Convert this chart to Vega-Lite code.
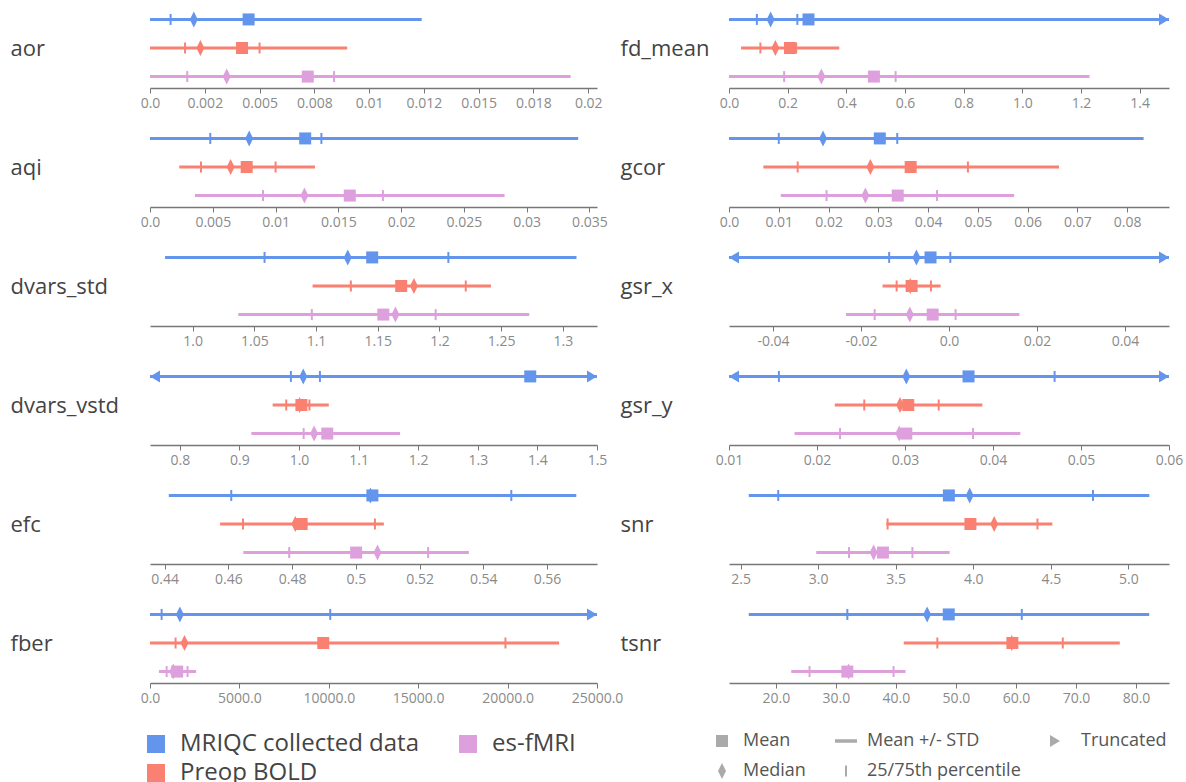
{
"$schema":"https://vega.github.io/schema/vega-lite/v6.json",
"padding":{"left":10,"top":8,"right":0,"bottom":0},
"bounds":"flush",
"columns":2,
"spacing":{"row":39,"column":132},
"datasets":{
"ranges":[
{"m":"aor","g":"MRIQC collected data","lo":0,"hi":0.0124},
{"m":"aor","g":"Preop BOLD","lo":0,"hi":0.009},
{"m":"aor","g":"es-fMRI","lo":0,"hi":0.0192},
{"m":"fd_mean","g":"MRIQC collected data","lo":0,"hi":1.5},
{"m":"fd_mean","g":"Preop BOLD","lo":0.041,"hi":0.376},
{"m":"fd_mean","g":"es-fMRI","lo":0,"hi":1.229},
{"m":"aqi","g":"MRIQC collected data","lo":0,"hi":0.0341},
{"m":"aqi","g":"Preop BOLD","lo":0.00233,"hi":0.01314},
{"m":"aqi","g":"es-fMRI","lo":0.00358,"hi":0.02824},
{"m":"gcor","g":"MRIQC collected data","lo":0,"hi":0.0833},
{"m":"gcor","g":"Preop BOLD","lo":0.0069,"hi":0.0663},
{"m":"gcor","g":"es-fMRI","lo":0.0104,"hi":0.0573},
{"m":"dvars_std","g":"MRIQC collected data","lo":0.9777,"hi":1.311},
{"m":"dvars_std","g":"Preop BOLD","lo":1.0972,"hi":1.2417},
{"m":"dvars_std","g":"es-fMRI","lo":1.037,"hi":1.2727},
{"m":"gsr_x","g":"MRIQC collected data","lo":-0.05,"hi":0.05},
{"m":"gsr_x","g":"Preop BOLD","lo":-0.0151,"hi":-0.0019},
{"m":"gsr_x","g":"es-fMRI","lo":-0.0234,"hi":0.016},
{"m":"dvars_vstd","g":"MRIQC collected data","lo":0.75,"hi":1.5},
{"m":"dvars_vstd","g":"Preop BOLD","lo":0.9558,"hi":1.05},
{"m":"dvars_vstd","g":"es-fMRI","lo":0.9201,"hi":1.1696},
{"m":"gsr_y","g":"MRIQC collected data","lo":0.01,"hi":0.06},
{"m":"gsr_y","g":"Preop BOLD","lo":0.02202,"hi":0.03879},
{"m":"gsr_y","g":"es-fMRI","lo":0.01745,"hi":0.04311},
{"m":"efc","g":"MRIQC collected data","lo":0.4413,"hi":0.5692},
{"m":"efc","g":"Preop BOLD","lo":0.4574,"hi":0.5088},
{"m":"efc","g":"es-fMRI","lo":0.4647,"hi":0.5355},
{"m":"snr","g":"MRIQC collected data","lo":2.553,"hi":5.135},
{"m":"snr","g":"Preop BOLD","lo":3.44,"hi":4.51},
{"m":"snr","g":"es-fMRI","lo":2.988,"hi":3.848},
{"m":"fber","g":"MRIQC collected data","lo":0,"hi":25000},
{"m":"fber","g":"Preop BOLD","lo":0,"hi":22880},
{"m":"fber","g":"es-fMRI","lo":500,"hi":2580},
{"m":"tsnr","g":"MRIQC collected data","lo":15.47,"hi":82.2},
{"m":"tsnr","g":"Preop BOLD","lo":41.3,"hi":77.3},
{"m":"tsnr","g":"es-fMRI","lo":22.55,"hi":41.6}
],
"pts":[
{"m":"aor","g":"MRIQC collected data","s":"25/75th percentile","v":0.00094},
{"m":"aor","g":"MRIQC collected data","s":"25/75th percentile","v":0.0046},
{"m":"aor","g":"MRIQC collected data","s":"Median","v":0.002},
{"m":"aor","g":"MRIQC collected data","s":"Mean","v":0.0045},
{"m":"aor","g":"Preop BOLD","s":"25/75th percentile","v":0.0016},
{"m":"aor","g":"Preop BOLD","s":"25/75th percentile","v":0.005},
{"m":"aor","g":"Preop BOLD","s":"Median","v":0.0023},
{"m":"aor","g":"Preop BOLD","s":"Mean","v":0.0042},
{"m":"aor","g":"es-fMRI","s":"25/75th percentile","v":0.0017},
{"m":"aor","g":"es-fMRI","s":"25/75th percentile","v":0.0084},
{"m":"aor","g":"es-fMRI","s":"Median","v":0.0035},
{"m":"aor","g":"es-fMRI","s":"Mean","v":0.0072},
{"m":"fd_mean","g":"MRIQC collected data","s":"25/75th percentile","v":0.095},
{"m":"fd_mean","g":"MRIQC collected data","s":"25/75th percentile","v":0.233},
{"m":"fd_mean","g":"MRIQC collected data","s":"Median","v":0.142},
{"m":"fd_mean","g":"MRIQC collected data","s":"Mean","v":0.271},
{"m":"fd_mean","g":"MRIQC collected data","s":"Truncated","v":1.5},
{"m":"fd_mean","g":"Preop BOLD","s":"25/75th percentile","v":0.107},
{"m":"fd_mean","g":"Preop BOLD","s":"25/75th percentile","v":0.229},
{"m":"fd_mean","g":"Preop BOLD","s":"Median","v":0.158},
{"m":"fd_mean","g":"Preop BOLD","s":"Mean","v":0.208},
{"m":"fd_mean","g":"es-fMRI","s":"25/75th percentile","v":0.188},
{"m":"fd_mean","g":"es-fMRI","s":"25/75th percentile","v":0.568},
{"m":"fd_mean","g":"es-fMRI","s":"Median","v":0.315},
{"m":"fd_mean","g":"es-fMRI","s":"Mean","v":0.494},
{"m":"aqi","g":"MRIQC collected data","s":"25/75th percentile","v":0.0048},
{"m":"aqi","g":"MRIQC collected data","s":"25/75th percentile","v":0.01365},
{"m":"aqi","g":"MRIQC collected data","s":"Median","v":0.0079},
{"m":"aqi","g":"MRIQC collected data","s":"Mean","v":0.01236},
{"m":"aqi","g":"Preop BOLD","s":"25/75th percentile","v":0.00406},
{"m":"aqi","g":"Preop BOLD","s":"25/75th percentile","v":0.01},
{"m":"aqi","g":"Preop BOLD","s":"Median","v":0.00642},
{"m":"aqi","g":"Preop BOLD","s":"Mean","v":0.0077},
{"m":"aqi","g":"es-fMRI","s":"25/75th percentile","v":0.009},
{"m":"aqi","g":"es-fMRI","s":"25/75th percentile","v":0.01855},
{"m":"aqi","g":"es-fMRI","s":"Median","v":0.0123},
{"m":"aqi","g":"es-fMRI","s":"Mean","v":0.01591},
{"m":"gcor","g":"MRIQC collected data","s":"25/75th percentile","v":0.01},
{"m":"gcor","g":"MRIQC collected data","s":"25/75th percentile","v":0.0338},
{"m":"gcor","g":"MRIQC collected data","s":"Median","v":0.0189},
{"m":"gcor","g":"MRIQC collected data","s":"Mean","v":0.0303},
{"m":"gcor","g":"Preop BOLD","s":"25/75th percentile","v":0.0138},
{"m":"gcor","g":"Preop BOLD","s":"25/75th percentile","v":0.048},
{"m":"gcor","g":"Preop BOLD","s":"Median","v":0.0284},
{"m":"gcor","g":"Preop BOLD","s":"Mean","v":0.0365},
{"m":"gcor","g":"es-fMRI","s":"25/75th percentile","v":0.0196},
{"m":"gcor","g":"es-fMRI","s":"25/75th percentile","v":0.0418},
{"m":"gcor","g":"es-fMRI","s":"Median","v":0.0274},
{"m":"gcor","g":"es-fMRI","s":"Mean","v":0.0339},
{"m":"dvars_std","g":"MRIQC collected data","s":"25/75th percentile","v":1.0583},
{"m":"dvars_std","g":"MRIQC collected data","s":"25/75th percentile","v":1.2072},
{"m":"dvars_std","g":"MRIQC collected data","s":"Median","v":1.1257},
{"m":"dvars_std","g":"MRIQC collected data","s":"Mean","v":1.1455},
{"m":"dvars_std","g":"Preop BOLD","s":"25/75th percentile","v":1.1282},
{"m":"dvars_std","g":"Preop BOLD","s":"25/75th percentile","v":1.2213},
{"m":"dvars_std","g":"Preop BOLD","s":"Mean","v":1.169},
{"m":"dvars_std","g":"Preop BOLD","s":"Median","v":1.1793},
{"m":"dvars_std","g":"es-fMRI","s":"25/75th percentile","v":1.0966},
{"m":"dvars_std","g":"es-fMRI","s":"25/75th percentile","v":1.1969},
{"m":"dvars_std","g":"es-fMRI","s":"Mean","v":1.1545},
{"m":"dvars_std","g":"es-fMRI","s":"Median","v":1.1643},
{"m":"gsr_x","g":"MRIQC collected data","s":"25/75th percentile","v":-0.0136},
{"m":"gsr_x","g":"MRIQC collected data","s":"25/75th percentile","v":0.0003},
{"m":"gsr_x","g":"MRIQC collected data","s":"Median","v":-0.0074},
{"m":"gsr_x","g":"MRIQC collected data","s":"Mean","v":-0.0042},
{"m":"gsr_x","g":"MRIQC collected data","s":"Truncated","v":0.05},
{"m":"gsr_x","g":"MRIQC collected data","s":"TruncatedL","v":-0.05},
{"m":"gsr_x","g":"Preop BOLD","s":"25/75th percentile","v":-0.0119},
{"m":"gsr_x","g":"Preop BOLD","s":"25/75th percentile","v":-0.0041},
{"m":"gsr_x","g":"Preop BOLD","s":"Median","v":-0.0088},
{"m":"gsr_x","g":"Preop BOLD","s":"Mean","v":-0.0085},
{"m":"gsr_x","g":"es-fMRI","s":"25/75th percentile","v":-0.0169},
{"m":"gsr_x","g":"es-fMRI","s":"25/75th percentile","v":0.0015},
{"m":"gsr_x","g":"es-fMRI","s":"Median","v":-0.0089},
{"m":"gsr_x","g":"es-fMRI","s":"Mean","v":-0.0037},
{"m":"dvars_vstd","g":"MRIQC collected data","s":"25/75th percentile","v":0.9864},
{"m":"dvars_vstd","g":"MRIQC collected data","s":"25/75th percentile","v":1.0351},
{"m":"dvars_vstd","g":"MRIQC collected data","s":"Median","v":1.0071},
{"m":"dvars_vstd","g":"MRIQC collected data","s":"Mean","v":1.388},
{"m":"dvars_vstd","g":"MRIQC collected data","s":"Truncated","v":1.5},
{"m":"dvars_vstd","g":"MRIQC collected data","s":"TruncatedL","v":0.75},
{"m":"dvars_vstd","g":"Preop BOLD","s":"25/75th percentile","v":0.9786},
{"m":"dvars_vstd","g":"Preop BOLD","s":"25/75th percentile","v":1.0175},
{"m":"dvars_vstd","g":"Preop BOLD","s":"Median","v":1.001},
{"m":"dvars_vstd","g":"Preop BOLD","s":"Mean","v":1.004},
{"m":"dvars_vstd","g":"es-fMRI","s":"25/75th percentile","v":1.0078},
{"m":"dvars_vstd","g":"es-fMRI","s":"25/75th percentile","v":1.05},
{"m":"dvars_vstd","g":"es-fMRI","s":"Median","v":1.0253},
{"m":"dvars_vstd","g":"es-fMRI","s":"Mean","v":1.0474},
{"m":"gsr_y","g":"MRIQC collected data","s":"25/75th percentile","v":0.01567},
{"m":"gsr_y","g":"MRIQC collected data","s":"25/75th percentile","v":0.047},
{"m":"gsr_y","g":"MRIQC collected data","s":"Median","v":0.03015},
{"m":"gsr_y","g":"MRIQC collected data","s":"Mean","v":0.03722},
{"m":"gsr_y","g":"MRIQC collected data","s":"Truncated","v":0.06},
{"m":"gsr_y","g":"MRIQC collected data","s":"TruncatedL","v":0.01},
{"m":"gsr_y","g":"Preop BOLD","s":"25/75th percentile","v":0.02537},
{"m":"gsr_y","g":"Preop BOLD","s":"25/75th percentile","v":0.03383},
{"m":"gsr_y","g":"Preop BOLD","s":"Median","v":0.02944},
{"m":"gsr_y","g":"Preop BOLD","s":"Mean","v":0.03037},
{"m":"gsr_y","g":"es-fMRI","s":"25/75th percentile","v":0.02262},
{"m":"gsr_y","g":"es-fMRI","s":"25/75th percentile","v":0.03773},
{"m":"gsr_y","g":"es-fMRI","s":"Median","v":0.02935},
{"m":"gsr_y","g":"es-fMRI","s":"Mean","v":0.03015},
{"m":"efc","g":"MRIQC collected data","s":"25/75th percentile","v":0.4609},
{"m":"efc","g":"MRIQC collected data","s":"25/75th percentile","v":0.5488},
{"m":"efc","g":"MRIQC collected data","s":"Median","v":0.5046},
{"m":"efc","g":"MRIQC collected data","s":"Mean","v":0.5052},
{"m":"efc","g":"Preop BOLD","s":"25/75th percentile","v":0.4646},
{"m":"efc","g":"Preop BOLD","s":"25/75th percentile","v":0.506},
{"m":"efc","g":"Preop BOLD","s":"Median","v":0.481},
{"m":"efc","g":"Preop BOLD","s":"Mean","v":0.483},
{"m":"efc","g":"es-fMRI","s":"25/75th percentile","v":0.4791},
{"m":"efc","g":"es-fMRI","s":"25/75th percentile","v":0.5227},
{"m":"efc","g":"es-fMRI","s":"Mean","v":0.5001},
{"m":"efc","g":"es-fMRI","s":"Median","v":0.5068},
{"m":"snr","g":"MRIQC collected data","s":"25/75th percentile","v":2.743},
{"m":"snr","g":"MRIQC collected data","s":"25/75th percentile","v":4.772},
{"m":"snr","g":"MRIQC collected data","s":"Mean","v":3.843},
{"m":"snr","g":"MRIQC collected data","s":"Median","v":3.977},
{"m":"snr","g":"Preop BOLD","s":"25/75th percentile","v":3.448},
{"m":"snr","g":"Preop BOLD","s":"25/75th percentile","v":4.414},
{"m":"snr","g":"Preop BOLD","s":"Mean","v":3.982},
{"m":"snr","g":"Preop BOLD","s":"Median","v":4.135},
{"m":"snr","g":"es-fMRI","s":"25/75th percentile","v":3.199},
{"m":"snr","g":"es-fMRI","s":"25/75th percentile","v":3.608},
{"m":"snr","g":"es-fMRI","s":"Median","v":3.358},
{"m":"snr","g":"es-fMRI","s":"Mean","v":3.418},
{"m":"fber","g":"MRIQC collected data","s":"25/75th percentile","v":650},
{"m":"fber","g":"MRIQC collected data","s":"25/75th percentile","v":10080},
{"m":"fber","g":"MRIQC collected data","s":"Median","v":1670},
{"m":"fber","g":"MRIQC collected data","s":"Truncated","v":25000},
{"m":"fber","g":"Preop BOLD","s":"25/75th percentile","v":1431},
{"m":"fber","g":"Preop BOLD","s":"25/75th percentile","v":19880},
{"m":"fber","g":"Preop BOLD","s":"Median","v":1930},
{"m":"fber","g":"Preop BOLD","s":"Mean","v":9690},
{"m":"fber","g":"es-fMRI","s":"25/75th percentile","v":930},
{"m":"fber","g":"es-fMRI","s":"25/75th percentile","v":2100},
{"m":"fber","g":"es-fMRI","s":"Median","v":1300},
{"m":"fber","g":"es-fMRI","s":"Mean","v":1520},
{"m":"tsnr","g":"MRIQC collected data","s":"25/75th percentile","v":31.9},
{"m":"tsnr","g":"MRIQC collected data","s":"25/75th percentile","v":60.97},
{"m":"tsnr","g":"MRIQC collected data","s":"Median","v":45.2},
{"m":"tsnr","g":"MRIQC collected data","s":"Mean","v":48.8},
{"m":"tsnr","g":"Preop BOLD","s":"25/75th percentile","v":46.9},
{"m":"tsnr","g":"Preop BOLD","s":"25/75th percentile","v":67.8},
{"m":"tsnr","g":"Preop BOLD","s":"Median","v":59.3},
{"m":"tsnr","g":"Preop BOLD","s":"Mean","v":59.4},
{"m":"tsnr","g":"es-fMRI","s":"25/75th percentile","v":25.6},
{"m":"tsnr","g":"es-fMRI","s":"25/75th percentile","v":39.6},
{"m":"tsnr","g":"es-fMRI","s":"Mean","v":31.9},
{"m":"tsnr","g":"es-fMRI","s":"Median","v":32.1}
]
},
"concat":[
{"width":447,"height":80,
 "encoding":{"y":{"field":"g","type":"nominal","title":"aor","scale":{"type":"point","padding":0.4}},
  "color":{"field":"g","type":"nominal","legend":{"title":null,"orient":"none","legendX":-6,"legendY":724,"columns":2,"values":["MRIQC collected data","Preop BOLD","es-fMRI"],"symbolType":"square","symbolSize":324,"symbolOpacity":1,"symbolStrokeWidth":0,"labelFontSize":24,"labelColor":"#444","labelFont":"Open Sans","labelOffset":12,"columnPadding":36,"rowPadding":5,"labelLimit":400}}},
 "layer":[
  {"data":{"name":"ranges"},"transform":[{"filter":"datum.m=='aor'"}],"mark":{"type":"rule","strokeWidth":3},
   "encoding":{"x":{"field":"lo","type":"quantitative","title":null,"scale":{"domain":[0,0.0204],"nice":false,"zero":false},"axis":{"values":[0,0.0025,0.005,0.0075,0.01,0.0125,0.015,0.0175,0.02],"labelExpr":"datum.value==0?'0.0':datum.value==0.0025?'0.002':datum.value==0.0075?'0.008':datum.value==0.0125?'0.012':datum.value==0.0175?'0.018':toString(datum.value)"}},"x2":{"field":"hi"}}},
  {"data":{"name":"pts"},"transform":[{"filter":"datum.m=='aor'"}],"mark":{"type":"point","filled":true,"opacity":1,"size":100},
   "encoding":{"x":{"field":"v","type":"quantitative","title":null},
    "shape":{"field":"s","type":"nominal","scale":{"domain":["Mean","Mean +/- STD","Truncated","Median","25/75th percentile","TruncatedL"],"range":["M-1.2,-1.2H1.2V1.2H-1.2Z","M-2.2,-0.35H2.2V0.35H-2.2Z","M-2,-1.2L0,0L-2,1.2Z","M0,-1.6L0.8,0L0,1.6L-0.8,0Z","M-0.2,-1.1H0.2V1.1H-0.2Z","M2,-1.2L0,0L2,1.2Z"]},
     "legend":{"title":null,"orient":"none","legendX":563,"legendY":724,"columns":3,"values":["Mean","Median","Mean +/- STD","25/75th percentile","Truncated"],"symbolSize":100,"symbolFillColor":"#aaaaaa","symbolStrokeColor":"#aaaaaa","symbolStrokeWidth":0,"symbolOpacity":1,"labelFontSize":18,"labelColor":"#555","labelFont":"Open Sans","labelOffset":12,"columnPadding":29,"rowPadding":12,
      "encode":{"symbols":{"update":{"fill":{"value":"#aaaaaa"},"stroke":{"value":"#aaaaaa"},"strokeWidth":{"value":0}}}}}}}}
 ]},
{"width":440,"height":80,
 "encoding":{"y":{"field":"g","type":"nominal","title":"fd_mean","scale":{"type":"point","padding":0.4},"axis":{"titleX":-109}},"color":{"field":"g","type":"nominal"}},
 "layer":[
  {"data":{"name":"ranges"},"transform":[{"filter":"datum.m=='fd_mean'"}],"mark":{"type":"rule","strokeWidth":3},
   "encoding":{"x":{"field":"lo","type":"quantitative","title":null,"scale":{"domain":[0,1.5],"nice":false,"zero":false},"axis":{"values":[0,0.2,0.4,0.6,0.8,1,1.2,1.4],"labelExpr":"indexof(toString(datum.value),'.')<0?toString(datum.value)+'.0':toString(datum.value)"}},"x2":{"field":"hi"}}},
  {"data":{"name":"pts"},"transform":[{"filter":"datum.m=='fd_mean'"}],"mark":{"type":"point","filled":true,"opacity":1,"size":100},
   "encoding":{"x":{"field":"v","type":"quantitative","title":null},
    "shape":{"field":"s","type":"nominal","scale":{"domain":["Mean","Mean +/- STD","Truncated","Median","25/75th percentile","TruncatedL"],"range":["M-1.2,-1.2H1.2V1.2H-1.2Z","M-2.2,-0.35H2.2V0.35H-2.2Z","M-2,-1.2L0,0L-2,1.2Z","M0,-1.6L0.8,0L0,1.6L-0.8,0Z","M-0.2,-1.1H0.2V1.1H-0.2Z","M2,-1.2L0,0L2,1.2Z"]}}}}
 ]},
{"width":447,"height":80,
 "encoding":{"y":{"field":"g","type":"nominal","title":"aqi","scale":{"type":"point","padding":0.4}},"color":{"field":"g","type":"nominal"}},
 "layer":[
  {"data":{"name":"ranges"},"transform":[{"filter":"datum.m=='aqi'"}],"mark":{"type":"rule","strokeWidth":3},
   "encoding":{"x":{"field":"lo","type":"quantitative","title":null,"scale":{"domain":[0,0.0356],"nice":false,"zero":false},"axis":{"values":[0,0.005,0.01,0.015,0.02,0.025,0.03,0.035],"labelExpr":"indexof(toString(datum.value),'.')<0?toString(datum.value)+'.0':toString(datum.value)"}},"x2":{"field":"hi"}}},
  {"data":{"name":"pts"},"transform":[{"filter":"datum.m=='aqi'"}],"mark":{"type":"point","filled":true,"opacity":1,"size":100},
   "encoding":{"x":{"field":"v","type":"quantitative","title":null},
    "shape":{"field":"s","type":"nominal","scale":{"domain":["Mean","Mean +/- STD","Truncated","Median","25/75th percentile","TruncatedL"],"range":["M-1.2,-1.2H1.2V1.2H-1.2Z","M-2.2,-0.35H2.2V0.35H-2.2Z","M-2,-1.2L0,0L-2,1.2Z","M0,-1.6L0.8,0L0,1.6L-0.8,0Z","M-0.2,-1.1H0.2V1.1H-0.2Z","M2,-1.2L0,0L2,1.2Z"]}}}}
 ]},
{"width":440,"height":80,
 "encoding":{"y":{"field":"g","type":"nominal","title":"gcor","scale":{"type":"point","padding":0.4},"axis":{"titleX":-109}},"color":{"field":"g","type":"nominal"}},
 "layer":[
  {"data":{"name":"ranges"},"transform":[{"filter":"datum.m=='gcor'"}],"mark":{"type":"rule","strokeWidth":3},
   "encoding":{"x":{"field":"lo","type":"quantitative","title":null,"scale":{"domain":[0,0.0884],"nice":false,"zero":false},"axis":{"values":[0,0.01,0.02,0.03,0.04,0.05,0.06,0.07,0.08],"labelExpr":"indexof(toString(datum.value),'.')<0?toString(datum.value)+'.0':toString(datum.value)"}},"x2":{"field":"hi"}}},
  {"data":{"name":"pts"},"transform":[{"filter":"datum.m=='gcor'"}],"mark":{"type":"point","filled":true,"opacity":1,"size":100},
   "encoding":{"x":{"field":"v","type":"quantitative","title":null},
    "shape":{"field":"s","type":"nominal","scale":{"domain":["Mean","Mean +/- STD","Truncated","Median","25/75th percentile","TruncatedL"],"range":["M-1.2,-1.2H1.2V1.2H-1.2Z","M-2.2,-0.35H2.2V0.35H-2.2Z","M-2,-1.2L0,0L-2,1.2Z","M0,-1.6L0.8,0L0,1.6L-0.8,0Z","M-0.2,-1.1H0.2V1.1H-0.2Z","M2,-1.2L0,0L2,1.2Z"]}}}}
 ]},
{"width":447,"height":80,
 "encoding":{"y":{"field":"g","type":"nominal","title":"dvars_std","scale":{"type":"point","padding":0.4}},"color":{"field":"g","type":"nominal"}},
 "layer":[
  {"data":{"name":"ranges"},"transform":[{"filter":"datum.m=='dvars_std'"}],"mark":{"type":"rule","strokeWidth":3},
   "encoding":{"x":{"field":"lo","type":"quantitative","title":null,"scale":{"domain":[0.9655,1.3276],"nice":false,"zero":false},"axis":{"values":[1,1.05,1.1,1.15,1.2,1.25,1.3],"labelExpr":"indexof(toString(datum.value),'.')<0?toString(datum.value)+'.0':toString(datum.value)"}},"x2":{"field":"hi"}}},
  {"data":{"name":"pts"},"transform":[{"filter":"datum.m=='dvars_std'"}],"mark":{"type":"point","filled":true,"opacity":1,"size":100},
   "encoding":{"x":{"field":"v","type":"quantitative","title":null},
    "shape":{"field":"s","type":"nominal","scale":{"domain":["Mean","Mean +/- STD","Truncated","Median","25/75th percentile","TruncatedL"],"range":["M-1.2,-1.2H1.2V1.2H-1.2Z","M-2.2,-0.35H2.2V0.35H-2.2Z","M-2,-1.2L0,0L-2,1.2Z","M0,-1.6L0.8,0L0,1.6L-0.8,0Z","M-0.2,-1.1H0.2V1.1H-0.2Z","M2,-1.2L0,0L2,1.2Z"]}}}}
 ]},
{"width":440,"height":80,
 "encoding":{"y":{"field":"g","type":"nominal","title":"gsr_x","scale":{"type":"point","padding":0.4},"axis":{"titleX":-109}},"color":{"field":"g","type":"nominal"}},
 "layer":[
  {"data":{"name":"ranges"},"transform":[{"filter":"datum.m=='gsr_x'"}],"mark":{"type":"rule","strokeWidth":3},
   "encoding":{"x":{"field":"lo","type":"quantitative","title":null,"scale":{"domain":[-0.05,0.05],"nice":false,"zero":false},"axis":{"values":[-0.04,-0.02,0,0.02,0.04],"labelExpr":"indexof(toString(datum.value),'.')<0?toString(datum.value)+'.0':toString(datum.value)"}},"x2":{"field":"hi"}}},
  {"data":{"name":"pts"},"transform":[{"filter":"datum.m=='gsr_x'"}],"mark":{"type":"point","filled":true,"opacity":1,"size":100},
   "encoding":{"x":{"field":"v","type":"quantitative","title":null},
    "shape":{"field":"s","type":"nominal","scale":{"domain":["Mean","Mean +/- STD","Truncated","Median","25/75th percentile","TruncatedL"],"range":["M-1.2,-1.2H1.2V1.2H-1.2Z","M-2.2,-0.35H2.2V0.35H-2.2Z","M-2,-1.2L0,0L-2,1.2Z","M0,-1.6L0.8,0L0,1.6L-0.8,0Z","M-0.2,-1.1H0.2V1.1H-0.2Z","M2,-1.2L0,0L2,1.2Z"]}}}}
 ]},
{"width":447,"height":80,
 "encoding":{"y":{"field":"g","type":"nominal","title":"dvars_vstd","scale":{"type":"point","padding":0.4}},"color":{"field":"g","type":"nominal"}},
 "layer":[
  {"data":{"name":"ranges"},"transform":[{"filter":"datum.m=='dvars_vstd'"}],"mark":{"type":"rule","strokeWidth":3},
   "encoding":{"x":{"field":"lo","type":"quantitative","title":null,"scale":{"domain":[0.75,1.5],"nice":false,"zero":false},"axis":{"values":[0.8,0.9,1,1.1,1.2,1.3,1.4,1.5],"labelExpr":"indexof(toString(datum.value),'.')<0?toString(datum.value)+'.0':toString(datum.value)"}},"x2":{"field":"hi"}}},
  {"data":{"name":"pts"},"transform":[{"filter":"datum.m=='dvars_vstd'"}],"mark":{"type":"point","filled":true,"opacity":1,"size":100},
   "encoding":{"x":{"field":"v","type":"quantitative","title":null},
    "shape":{"field":"s","type":"nominal","scale":{"domain":["Mean","Mean +/- STD","Truncated","Median","25/75th percentile","TruncatedL"],"range":["M-1.2,-1.2H1.2V1.2H-1.2Z","M-2.2,-0.35H2.2V0.35H-2.2Z","M-2,-1.2L0,0L-2,1.2Z","M0,-1.6L0.8,0L0,1.6L-0.8,0Z","M-0.2,-1.1H0.2V1.1H-0.2Z","M2,-1.2L0,0L2,1.2Z"]}}}}
 ]},
{"width":440,"height":80,
 "encoding":{"y":{"field":"g","type":"nominal","title":"gsr_y","scale":{"type":"point","padding":0.4},"axis":{"titleX":-109}},"color":{"field":"g","type":"nominal"}},
 "layer":[
  {"data":{"name":"ranges"},"transform":[{"filter":"datum.m=='gsr_y'"}],"mark":{"type":"rule","strokeWidth":3},
   "encoding":{"x":{"field":"lo","type":"quantitative","title":null,"scale":{"domain":[0.01,0.06],"nice":false,"zero":false},"axis":{"values":[0.01,0.02,0.03,0.04,0.05,0.06],"labelExpr":"indexof(toString(datum.value),'.')<0?toString(datum.value)+'.0':toString(datum.value)"}},"x2":{"field":"hi"}}},
  {"data":{"name":"pts"},"transform":[{"filter":"datum.m=='gsr_y'"}],"mark":{"type":"point","filled":true,"opacity":1,"size":100},
   "encoding":{"x":{"field":"v","type":"quantitative","title":null},
    "shape":{"field":"s","type":"nominal","scale":{"domain":["Mean","Mean +/- STD","Truncated","Median","25/75th percentile","TruncatedL"],"range":["M-1.2,-1.2H1.2V1.2H-1.2Z","M-2.2,-0.35H2.2V0.35H-2.2Z","M-2,-1.2L0,0L-2,1.2Z","M0,-1.6L0.8,0L0,1.6L-0.8,0Z","M-0.2,-1.1H0.2V1.1H-0.2Z","M2,-1.2L0,0L2,1.2Z"]}}}}
 ]},
{"width":447,"height":80,
 "encoding":{"y":{"field":"g","type":"nominal","title":"efc","scale":{"type":"point","padding":0.4}},"color":{"field":"g","type":"nominal"}},
 "layer":[
  {"data":{"name":"ranges"},"transform":[{"filter":"datum.m=='efc'"}],"mark":{"type":"rule","strokeWidth":3},
   "encoding":{"x":{"field":"lo","type":"quantitative","title":null,"scale":{"domain":[0.4354,0.5757],"nice":false,"zero":false},"axis":{"values":[0.44,0.46,0.48,0.5,0.52,0.54,0.56],"labelExpr":"indexof(toString(datum.value),'.')<0?toString(datum.value)+'.0':toString(datum.value)"}},"x2":{"field":"hi"}}},
  {"data":{"name":"pts"},"transform":[{"filter":"datum.m=='efc'"}],"mark":{"type":"point","filled":true,"opacity":1,"size":100},
   "encoding":{"x":{"field":"v","type":"quantitative","title":null},
    "shape":{"field":"s","type":"nominal","scale":{"domain":["Mean","Mean +/- STD","Truncated","Median","25/75th percentile","TruncatedL"],"range":["M-1.2,-1.2H1.2V1.2H-1.2Z","M-2.2,-0.35H2.2V0.35H-2.2Z","M-2,-1.2L0,0L-2,1.2Z","M0,-1.6L0.8,0L0,1.6L-0.8,0Z","M-0.2,-1.1H0.2V1.1H-0.2Z","M2,-1.2L0,0L2,1.2Z"]}}}}
 ]},
{"width":440,"height":80,
 "encoding":{"y":{"field":"g","type":"nominal","title":"snr","scale":{"type":"point","padding":0.4},"axis":{"titleX":-109}},"color":{"field":"g","type":"nominal"}},
 "layer":[
  {"data":{"name":"ranges"},"transform":[{"filter":"datum.m=='snr'"}],"mark":{"type":"rule","strokeWidth":3},
   "encoding":{"x":{"field":"lo","type":"quantitative","title":null,"scale":{"domain":[2.4256,5.262],"nice":false,"zero":false},"axis":{"values":[2.5,3,3.5,4,4.5,5],"labelExpr":"indexof(toString(datum.value),'.')<0?toString(datum.value)+'.0':toString(datum.value)"}},"x2":{"field":"hi"}}},
  {"data":{"name":"pts"},"transform":[{"filter":"datum.m=='snr'"}],"mark":{"type":"point","filled":true,"opacity":1,"size":100},
   "encoding":{"x":{"field":"v","type":"quantitative","title":null},
    "shape":{"field":"s","type":"nominal","scale":{"domain":["Mean","Mean +/- STD","Truncated","Median","25/75th percentile","TruncatedL"],"range":["M-1.2,-1.2H1.2V1.2H-1.2Z","M-2.2,-0.35H2.2V0.35H-2.2Z","M-2,-1.2L0,0L-2,1.2Z","M0,-1.6L0.8,0L0,1.6L-0.8,0Z","M-0.2,-1.1H0.2V1.1H-0.2Z","M2,-1.2L0,0L2,1.2Z"]}}}}
 ]},
{"width":447,"height":80,
 "encoding":{"y":{"field":"g","type":"nominal","title":"fber","scale":{"type":"point","padding":0.4}},"color":{"field":"g","type":"nominal"}},
 "layer":[
  {"data":{"name":"ranges"},"transform":[{"filter":"datum.m=='fber'"}],"mark":{"type":"rule","strokeWidth":3},
   "encoding":{"x":{"field":"lo","type":"quantitative","title":null,"scale":{"domain":[0,25000],"nice":false,"zero":false},"axis":{"values":[0,5000,10000,15000,20000,25000],"labelExpr":"indexof(toString(datum.value),'.')<0?toString(datum.value)+'.0':toString(datum.value)"}},"x2":{"field":"hi"}}},
  {"data":{"name":"pts"},"transform":[{"filter":"datum.m=='fber'"}],"mark":{"type":"point","filled":true,"opacity":1,"size":100},
   "encoding":{"x":{"field":"v","type":"quantitative","title":null},
    "shape":{"field":"s","type":"nominal","scale":{"domain":["Mean","Mean +/- STD","Truncated","Median","25/75th percentile","TruncatedL"],"range":["M-1.2,-1.2H1.2V1.2H-1.2Z","M-2.2,-0.35H2.2V0.35H-2.2Z","M-2,-1.2L0,0L-2,1.2Z","M0,-1.6L0.8,0L0,1.6L-0.8,0Z","M-0.2,-1.1H0.2V1.1H-0.2Z","M2,-1.2L0,0L2,1.2Z"]}}}}
 ]},
{"width":440,"height":80,
 "encoding":{"y":{"field":"g","type":"nominal","title":"tsnr","scale":{"type":"point","padding":0.4},"axis":{"titleX":-109}},"color":{"field":"g","type":"nominal"}},
 "layer":[
  {"data":{"name":"ranges"},"transform":[{"filter":"datum.m=='tsnr'"}],"mark":{"type":"rule","strokeWidth":3},
   "encoding":{"x":{"field":"lo","type":"quantitative","title":null,"scale":{"domain":[12.18,85.5],"nice":false,"zero":false},"axis":{"values":[20,30,40,50,60,70,80],"labelExpr":"indexof(toString(datum.value),'.')<0?toString(datum.value)+'.0':toString(datum.value)"}},"x2":{"field":"hi"}}},
  {"data":{"name":"pts"},"transform":[{"filter":"datum.m=='tsnr'"}],"mark":{"type":"point","filled":true,"opacity":1,"size":100},
   "encoding":{"x":{"field":"v","type":"quantitative","title":null},
    "shape":{"field":"s","type":"nominal","scale":{"domain":["Mean","Mean +/- STD","Truncated","Median","25/75th percentile","TruncatedL"],"range":["M-1.2,-1.2H1.2V1.2H-1.2Z","M-2.2,-0.35H2.2V0.35H-2.2Z","M-2,-1.2L0,0L-2,1.2Z","M0,-1.6L0.8,0L0,1.6L-0.8,0Z","M-0.2,-1.1H0.2V1.1H-0.2Z","M2,-1.2L0,0L2,1.2Z"]}}}}
 ]}
],
"config":{
 "view":{"stroke":null},
 "font":"Open Sans",
 "range":{"category":["#6495ED","#FA8072","#DDA0DD"]},
 "axisX":{"domainColor":"#777777","tickColor":"#777777","labelColor":"#8a8a8a","labelFontSize":14,"labelFont":"Open Sans","tickSize":5,"grid":false,"labelPadding":3,"domainWidth":1.3,"labelFlush":false,"labelOverlap":false},
 "axisY":{"labels":false,"ticks":false,"domain":false,"grid":false,"titleAngle":0,"titleAlign":"left","titleBaseline":"middle","titleX":-140,"titleY":40,"titleFontSize":22,"titleFontWeight":"normal","titleColor":"#444444","titleFont":"Open Sans"},
 "legend":{"padding":0}
}
}
